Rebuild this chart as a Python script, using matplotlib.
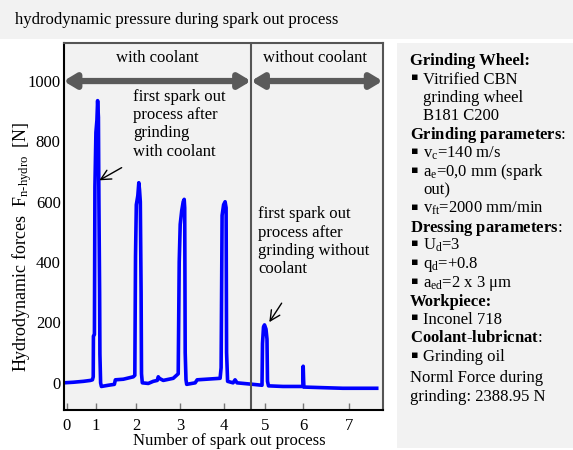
import matplotlib
matplotlib.use('Agg')
import matplotlib.pyplot as plt
from matplotlib.patches import Rectangle

plt.rcParams['font.family'] = ['Liberation Serif', 'DejaVu Sans']
plt.rcParams['font.size'] = 12
plt.rcParams['mathtext.fontset'] = 'custom'
plt.rcParams['mathtext.rm'] = 'Liberation Serif'
plt.rcParams['mathtext.it'] = 'Liberation Serif:italic'
plt.rcParams['mathtext.bf'] = 'Liberation Serif:bold'

# measured trace (time in s, force in N)
t = [0.0, 1.0, 2.0, 2.7, 2.9,
     2.98, 3.0, 3.1, 3.15, 3.25, 3.35, 3.42, 3.5, 3.55, 3.62, 3.65, 3.72, 3.8, 4.5, 5.1, 5.2, 6.0, 7.0,
     7.15, 7.22, 7.3, 7.45, 7.55, 7.62, 7.7, 7.78, 7.82, 7.9, 8.5, 9.0, 9.4, 9.5, 9.6, 10.0, 11.0, 11.5,
     11.6, 11.7, 11.85, 12.0, 12.1, 12.15, 12.2, 12.28, 12.35, 13.2, 13.4, 15.7, 15.8,
     15.9, 16.05, 16.2, 16.3, 16.35, 16.45, 17.0, 17.2, 17.4, 19.0, 19.9,
     19.95, 20.05, 20.15, 20.3, 20.4, 20.45, 20.55, 22.0, 24.0,
     24.03, 24.07, 24.1, 26.0, 28.0, 31.4]
force = [0, 2, 5, 8, 10,
         20, 155, 160, 650, 830, 870, 935, 880, 600, 300, 95, 0, -12, -8, -5, 10, 12, 20,
         25, 420, 590, 620, 663, 640, 600, 300, 30, 0, -2, 5, 8, 20, 15, 8, 15, 30,
         400, 525, 570, 600, 608, 580, 100, 10, -5, 0, 10, 15, 50,
         555, 590, 600, 580, 100, 5, 0, 10, 0, -5, -8,
         130, 185, 192, 178, 145, 5, -10, -12, -12,
         55, 10, -14, -16, -18, -18]

tick_pos = [0.32, 3.23, 7.27, 11.68, 16.09, 20.2, 24.04, 28.62]
tick_labels = ['0', '1', '2', '3', '4', '5', '6', '7']
divider = 18.8

panel_lines = [
    ('head', 'Grinding Wheel:'),
    ('bullet', 'Vitrified CBN'),
    ('cont', 'grinding wheel'),
    ('cont', 'B181 C200'),
    ('mixed', '$\\mathbf{Grinding\\ parameters}$:'),
    ('bullet', 'v$_\\mathrm{c}$=140 m/s'),
    ('bullet', 'a$_\\mathrm{e}$=0,0 mm (spark'),
    ('cont', 'out)'),
    ('bullet', 'v$_\\mathrm{ft}$=2000 mm/min'),
    ('mixed', '$\\mathbf{Dressing\\ parameters}$:'),
    ('bullet', 'U$_\\mathrm{d}$=3'),
    ('bullet', 'q$_\\mathrm{d}$=+0.8'),
    ('bullet', 'a$_\\mathrm{ed}$=2 x 3 μm'),
    ('head', 'Workpiece:'),
    ('bullet', 'Inconel 718'),
    ('mixed', '$\\mathbf{Coolant}$-$\\mathbf{lubricnat}$:'),
    ('bullet', 'Grinding oil'),
]
note_lines = ['Norml Force during', 'grinding: 2388.95 N']

W, H = 573, 450
fig = plt.figure(figsize=(W / 100, H / 100), dpi=100)
fig.patch.set_facecolor('white')

def fx(px):
    return px / W

def fy(py):
    return 1 - py / H

# title strip and side panel
fig.patches.append(Rectangle((0, fy(38.5)), 1, 38.5 / H, transform=fig.transFigure,
                             facecolor='#f2f2f2', edgecolor='none', zorder=0))
fig.patches.append(Rectangle((fx(396.7), fy(448)), 1 - fx(396.7), (448 - 43) / H,
                             transform=fig.transFigure, facecolor='#f2f2f2',
                             edgecolor='none', zorder=0))
fig.text(fx(15), fy(20), 'hydrodynamic pressure during spark out process',
         va='center', ha='left', fontsize=12)

ax = fig.add_axes([fx(63.5), fy(410), fx(382.7) - fx(63.5), (410 - 43.3) / H])
ax.set_facecolor('#f2f2f2')
ax.plot(t, force, color='#0000ff', lw=2.6, solid_joinstyle='round')
ax.set_xlim(0, 32)
ax.set_ylim(-90, 1125)
ax.set_xticks(tick_pos)
ax.set_xticklabels(tick_labels)
ax.set_yticks([0, 200, 400, 600, 800, 1000])
ax.tick_params(axis='x', direction='in', length=5, color='#777777', width=1, pad=6, labelsize=12)
ax.tick_params(axis='y', length=0, pad=2, labelsize=12)
for s in ['left', 'bottom']:
    ax.spines[s].set_color('black')
    ax.spines[s].set_linewidth(1.5)
for s in ['top', 'right']:
    ax.spines[s].set_color('#555555')
    ax.spines[s].set_linewidth(1.5)

ax.axvline(divider, color='#555555', lw=1.5)

arrow_style = dict(arrowstyle='<|-|>,head_length=0.5,head_width=0.3', lw=4.5,
                   color='#5a5a5a', shrinkA=0, shrinkB=0, mutation_scale=14)
ax.annotate('', xy=(0, 1000), xytext=(divider, 1000), arrowprops=arrow_style)
ax.annotate('', xy=(divider, 1000), xytext=(32, 1000), arrowprops=arrow_style)
ax.text(9.37, 1077, 'with coolant', ha='center', va='center', fontsize=12)
ax.text(25.2, 1077, 'without coolant', ha='center', va='center', fontsize=12)

ax.text(6.97, 975, 'first spark out\nprocess after\ngrinding\nwith coolant',
        ha='left', va='top', fontsize=12)
ax.annotate('', xy=(3.59, 671), xytext=(5.83, 713),
            arrowprops=dict(arrowstyle='->,head_length=0.6,head_width=0.3', lw=1,
                            color='black', shrinkA=0, shrinkB=0))
ax.text(19.5, 585, 'first spark out\nprocess after\ngrinding without\ncoolant',
        ha='left', va='top', fontsize=12)
ax.annotate('', xy=(20.63, 201), xytext=(21.87, 264),
            arrowprops=dict(arrowstyle='->,head_length=0.6,head_width=0.3', lw=1,
                            color='black', shrinkA=0, shrinkB=0))

fig.text(fx(22), fy(247), 'Hydrodynamic forces  F$_{\\text{n-hydro}}$  [N]',
         rotation=90, ha='center', va='center', fontsize=13)
fig.text(fx(229), fy(445), 'Number of spark out process', ha='center', va='baseline', fontsize=12)

# side panel text
base = 65
for i, (kind, txt) in enumerate(panel_lines):
    y = fy(base + i * 18.5)
    if kind == 'head':
        fig.text(fx(410), y, txt, ha='left', va='baseline', fontsize=12, fontweight='bold')
    elif kind == 'mixed':
        fig.text(fx(410), y, txt, ha='left', va='baseline', fontsize=12)
    else:
        if kind == 'bullet':
            fig.text(fx(411.5), y + 3.5 / H, '▪', ha='left', va='baseline',
                     fontsize=8, family='DejaVu Sans')
        fig.text(fx(423), y, txt, ha='left', va='baseline', fontsize=12)
for j, txt in enumerate(note_lines):
    fig.text(fx(410), fy(382.5 + j * 18.5), txt, ha='left', va='baseline', fontsize=12)

fig.savefig('out.png', dpi=100)
